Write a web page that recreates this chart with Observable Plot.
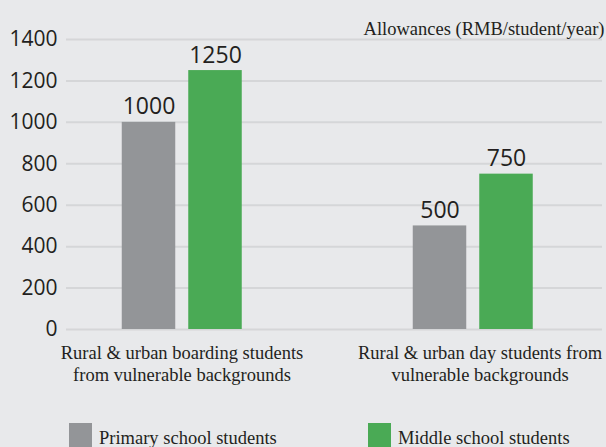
<!DOCTYPE html>
<html><head><meta charset="utf-8">
<script src="https://cdn.jsdelivr.net/npm/d3@7"></script>
<script src="https://cdn.jsdelivr.net/npm/@observablehq/plot@0.6"></script>
<style>
html,body{margin:0;padding:0;background:#e8e9eb;width:606px;height:447px;overflow:hidden}
#legend{position:relative;height:47px;font-family:"Liberation Serif",serif;font-size:18.5px;color:#231f20}
.item{position:absolute;top:23px;display:flex;align-items:flex-start}
.sw{width:23px;height:24px;margin-right:7px}
.lbl{padding-top:6px;line-height:18px;white-space:nowrap}
</style></head><body>
<div id="chart"></div>
<div id="legend"></div>
<script>
const groups = ["Rural & urban boarding students from vulnerable backgrounds", "Rural & urban day students from vulnerable backgrounds"];
const groupLabels = ["Rural & urban boarding students\nfrom vulnerable backgrounds", "Rural & urban day students from\nvulnerable backgrounds"];
const series = ["Primary school students", "Middle school students"];
const primaryValues = [1000, 500];
const middleValues = [1250, 750];
const yTicks = [0, 200, 400, 600, 800, 1000, 1200, 1400];
const colors = ["#939598", "#4aaa55"];
const unitLabel = "Allowances (RMB/student/year)";

const data = groups.flatMap((g, i) => [
  {group: g, series: series[0], value: primaryValues[i]},
  {group: g, series: series[1], value: middleValues[i]}
]);
const prim = data.filter(d => d.series === series[0]);
const mid = data.filter(d => d.series === series[1]);
const labelOf = new Map(groups.map((g, i) => [g, groupLabels[i]]));
const sans = "Open Sans, sans-serif";
const serif = "Liberation Serif, serif";
const ink = "#231f20";
const xAxisOpts = {tickSize: 0, tickPadding: 15, fontSize: 18.5, fontFamily: serif, fill: ink, lineHeight: 1.14, label: null, tickFormat: d => labelOf.get(d)};

const chart = Plot.plot({
  width: 606,
  height: 400,
  marginLeft: 66,
  marginRight: 4,
  marginTop: 39,
  marginBottom: 71,
  style: {background: "transparent", color: ink},
  x: {type: "band", domain: groups, range: [35.25, 618.25], padding: 0},
  y: {domain: [0, 1400]},
  marks: [
    Plot.gridY(yTicks, {stroke: "#d5d6d8", strokeOpacity: 1, strokeWidth: 2}),
    Plot.axisY(yTicks, {tickSize: 0, tickPadding: 9, fontSize: 21, fontFamily: sans, fill: ink, label: null, tickFormat: d => String(d)}),
    Plot.axisX([groups[0]], xAxisOpts),
    Plot.axisX([groups[1]], {...xAxisOpts, dx: 7}),
    Plot.barY(prim, {x: "group", y: "value", fill: colors[0], insetLeft: 85.75, insetRight: 151.75}),
    Plot.barY(mid, {x: "group", y: "value", fill: colors[1], insetLeft: 152.25, insetRight: 85.25}),
    Plot.text(prim, {x: "group", y: "value", text: d => String(d.value), dx: -33, dy: -8, lineAnchor: "bottom", fontSize: 23, fontFamily: sans, fill: ink}),
    Plot.text(mid, {x: "group", y: "value", text: d => String(d.value), dx: 33.5, dy: -8, lineAnchor: "bottom", fontSize: 23, fontFamily: sans, fill: ink}),
    Plot.text([unitLabel], {frameAnchor: "top-right", text: d => d, dx: 2, dy: -5, lineAnchor: "bottom", fontSize: 18.5, fontFamily: serif, fill: ink})
  ]
});
document.getElementById("chart").appendChild(chart);

const legend = document.getElementById("legend");
const lefts = [69, 368];
series.forEach((s, i) => {
  const item = document.createElement("div");
  item.className = "item";
  item.style.left = lefts[i] + "px";
  item.innerHTML = `<div class="sw" style="background:${colors[i]}"></div><div class="lbl">${s}</div>`;
  legend.appendChild(item);
});
</script>
</body></html>
